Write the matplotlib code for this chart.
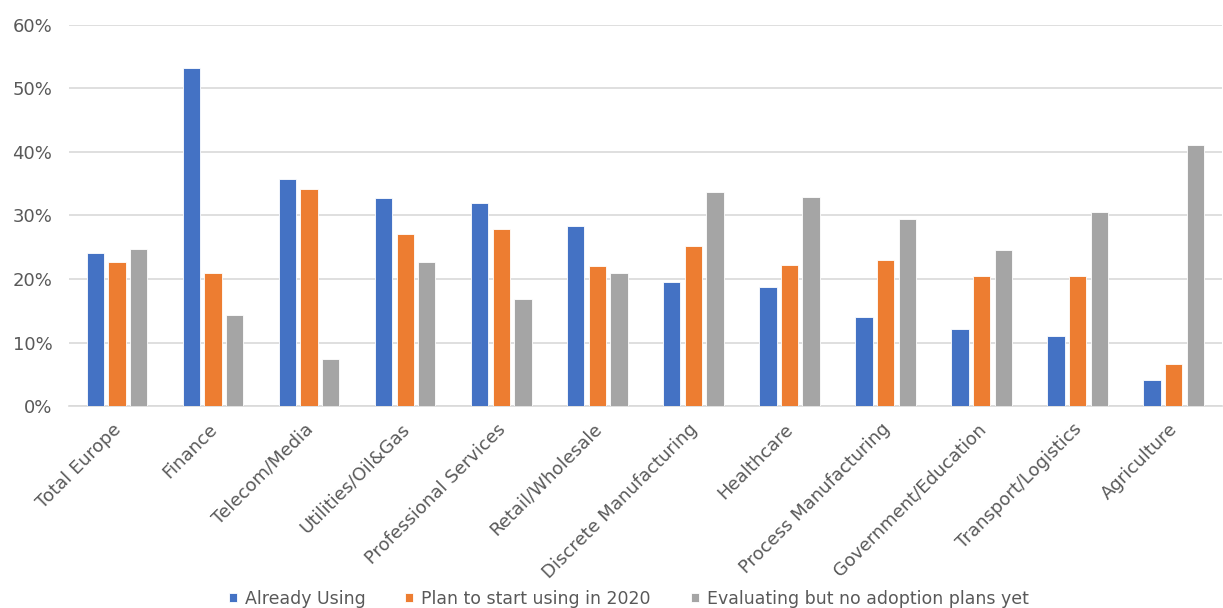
import matplotlib
matplotlib.use("Agg")
import matplotlib.pyplot as plt
import matplotlib.transforms as mtransforms
import numpy as np
from matplotlib.ticker import PercentFormatter

categories = ["Total Europe", "Finance", "Telecom/Media", "Utilities/Oil&Gas",
              "Professional Services", "Retail/Wholesale", "Discrete Manufacturing",
              "Healthcare", "Process Manufacturing", "Government/Education",
              "Transport/Logistics", "Agriculture"]
already_using = [24.0, 53.2, 35.7, 32.7, 31.9, 28.3, 19.5, 18.7, 14.0, 12.2, 11.0, 4.1]
plan_2020 = [22.7, 21.0, 34.2, 27.0, 27.8, 22.0, 25.2, 22.2, 23.0, 20.4, 20.4, 6.7]
evaluating = [24.7, 14.4, 7.4, 22.7, 16.9, 20.9, 33.7, 32.9, 29.4, 24.5, 30.5, 41.0]
series_names = ["Already Using", "Plan to start using in 2020",
                "Evaluating but no adoption plans yet"]

colors = ["#4472C4", "#ED7D31", "#A5A5A5"]
text_color = "#595959"

fig = plt.figure(figsize=(12.23, 6.08), dpi=100)
ax = fig.add_axes([0.0564, 0.332, 0.9426, 0.6277])

x = np.arange(len(categories))
w = 0.18
step = 0.225
for i, (vals, name) in enumerate(zip([already_using, plan_2020, evaluating], series_names)):
    ax.bar(x + (i - 1) * step, vals, width=w, color=colors[i], label=name,
           edgecolor="white", linewidth=0.6, zorder=3)

ax.set_xlim(-0.5, len(categories) - 0.5)
ax.set_ylim(0, 60)
ax.set_yticks(np.arange(0, 61, 10))
ax.yaxis.set_major_formatter(PercentFormatter(decimals=0))
ax.grid(axis="y", color="#D9D9D9", linewidth=1.2, zorder=0)
for s in ["top", "right", "left"]:
    ax.spines[s].set_visible(False)
ax.spines["bottom"].set_color("#D9D9D9")
ax.spines["bottom"].set_linewidth(1.2)
ax.tick_params(axis="both", length=0, labelsize=13, colors=text_color)
ax.tick_params(axis="y", pad=12)
ax.set_xticks(x)
ax.set_xticklabels(categories, rotation=45, ha="right", rotation_mode="anchor")
ax.tick_params(axis="x", pad=10)
offset = mtransforms.ScaledTranslation(-5 / 100, 0, fig.dpi_scale_trans)
for lbl in ax.get_xticklabels():
    lbl.set_transform(lbl.get_transform() + offset)

leg = fig.legend(loc="lower center", bbox_to_anchor=(0.514, -0.025), ncol=3,
                 frameon=False, fontsize=12.5, handlelength=0.46, handleheight=0.46,
                 handletextpad=0.46, columnspacing=2.3)
for t in leg.get_texts():
    t.set_color(text_color)

fig.savefig("out.png", dpi=100)
